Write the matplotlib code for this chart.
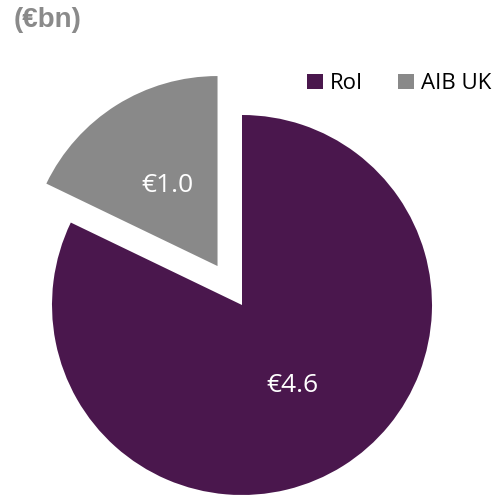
import matplotlib.pyplot as plt

# values in EUR bn
labels = ["RoI", "AIB UK"]
values = [4.6, 1.0]
colors = ["#4a174d", "#898989"]
total = sum(values)

fig = plt.figure(figsize=(4.98, 4.95), dpi=100)
ax = fig.add_axes([0, 0, 1, 1])

wedges, texts, autotexts = ax.pie(
    values, colors=colors, startangle=90, counterclock=False,
    explode=[0, 46], radius=190, center=(242, 190),
    autopct=lambda p: f"€{p * total / 100:.1f}", pctdistance=0.5,
    textprops=dict(color="white", fontsize=19, family="Open Sans"),
    frame=True,
)
ax.set_xlim(0, 498)
ax.set_ylim(0, 495)
ax.set_aspect("equal")
ax.axis("off")

fig.text(0.028, 0.985, "(€bn)", fontsize=20, fontweight="bold", color="#8a8a8a",
         family="Liberation Sans", va="top", ha="left")

fig.legend(wedges, labels, loc="upper right", bbox_to_anchor=(1.026, 0.892), ncol=2,
           frameon=False, prop=dict(family="Open Sans", size=16),
           handlelength=0.7, handleheight=0.7, handletextpad=0.3, columnspacing=1.6)

fig.savefig("out.png", dpi=100)
